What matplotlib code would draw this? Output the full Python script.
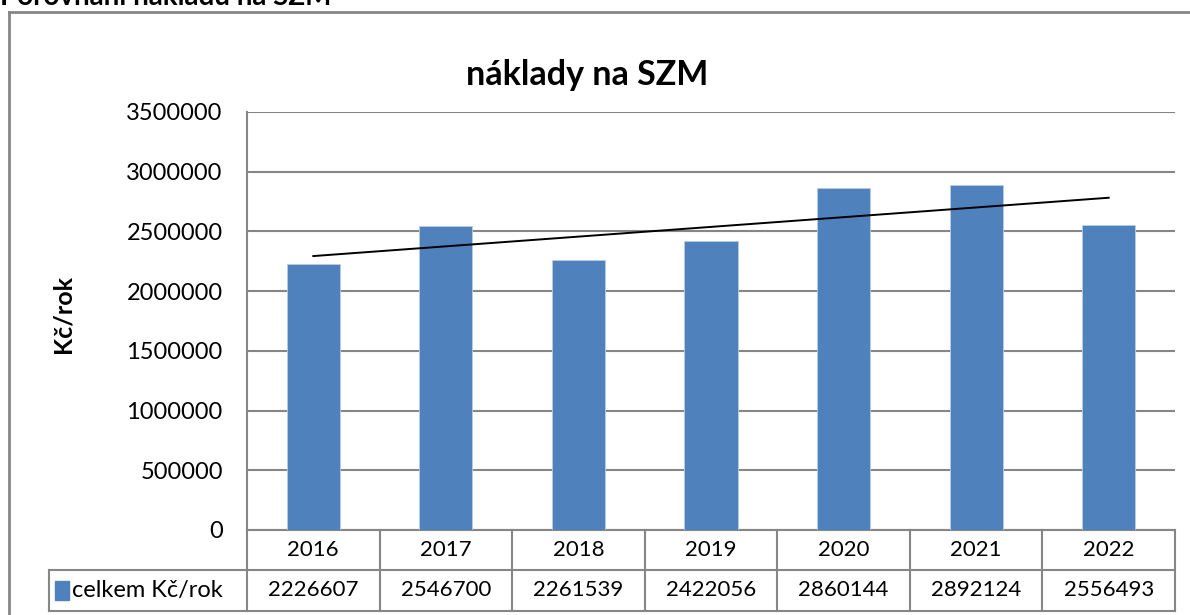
import numpy as np
import matplotlib.pyplot as plt
from matplotlib.patches import Rectangle
from matplotlib.lines import Line2D
import matplotlib.transforms as mtransforms

# data
years = ["2016", "2017", "2018", "2019", "2020", "2021", "2022"]
values = [2226607, 2546700, 2261539, 2422056, 2860144, 2892124, 2556493]
series_name = "celkem Kč/rok"
yticks = [0, 500000, 1000000, 1500000, 2000000, 2500000, 3000000, 3500000]

plt.rcParams['font.family'] = ['Lato', 'DejaVu Sans']
bar_color = "#4F81BD"
grid_color = "#868686"

fig = plt.figure(figsize=(11.9, 6.15), dpi=100)
ax = fig.add_axes([247 / 1190, 1 - 530 / 615, 928 / 1190, 418 / 615])

x = np.arange(len(years))
ax.bar(x, values, width=0.4, color=bar_color, edgecolor="#B9CDE5", linewidth=0.6, zorder=3)

# linear trendline like excel
k, q = np.polyfit(x, values, 1)
ax.plot(x, k * x + q, color="black", lw=1.4, zorder=4)

ax.set_xlim(-0.5, len(years) - 0.5)
ax.set_ylim(0, 3500000)
ax.set_yticks(yticks)
ax.set_yticklabels([str(t) for t in yticks], fontsize=17)
ax.set_xticks([])
ax.tick_params(axis="y", length=0, pad=17.5)
ax.grid(axis="y", color=grid_color, lw=1.5, zorder=0)
for s in ["top", "right", "bottom"]:
    ax.spines[s].set_visible(False)
ax.spines["left"].set_color(grid_color)
ax.spines["left"].set_linewidth(1.5)

# chart title is centred on the whole chart frame
fig.text(587 / 1190, 1 - 75 / 615, "náklady na SZM", fontsize=24.5, fontweight="bold",
         ha="center", va="center")
fig.text(63 / 1190, 1 - 314 / 615, "Kč/rok", fontsize=18, fontweight="bold",
         rotation=90, ha="center", va="center")

# data table below the plot
tr = mtransforms.blended_transform_factory(ax.transData, ax.transAxes)
r1 = -40 / 418
r2 = -81 / 418
lab_left = -198 / 928
lw = 1.5
# horizontal lines
ax.add_line(Line2D([-0.5, 6.5], [0, 0], transform=tr, color=grid_color, lw=lw, clip_on=False))
ax.add_line(Line2D([lab_left, 1], [r1, r1], transform=ax.transAxes, color=grid_color, lw=lw, clip_on=False))
ax.add_line(Line2D([lab_left, 1], [r2, r2], transform=ax.transAxes, color=grid_color, lw=lw, clip_on=False))
# vertical lines
for b in np.arange(-0.5, len(years)):
    ax.add_line(Line2D([b, b], [0, r2], transform=tr, color=grid_color, lw=lw, clip_on=False))
ax.add_line(Line2D([lab_left, lab_left], [r1, r2], transform=ax.transAxes, color=grid_color, lw=lw, clip_on=False))

for i, (yr, v) in enumerate(zip(years, values)):
    ax.text(i, r1 / 2, yr, transform=tr, ha="center", va="center", fontsize=16)
    ax.text(i, (r1 + r2) / 2, str(v), transform=tr, ha="center", va="center", fontsize=16)

ax.add_patch(Rectangle((lab_left + 0.007, (r1 + r2) / 2 - 0.022), 0.0145, 0.044,
                       transform=ax.transAxes, color=bar_color, clip_on=False))
ax.text(lab_left + 0.025, (r1 + r2) / 2, series_name, transform=ax.transAxes,
        ha="left", va="center", fontsize=17)

# outer chart frame and the caption above it
fig.add_artist(Line2D([9 / 1190, 9 / 1190], [0, 1 - 12 / 615], color=grid_color, lw=2))
fig.add_artist(Line2D([9 / 1190, 1], [1 - 12 / 615, 1 - 12 / 615], color=grid_color, lw=2))
fig.text(0.0, 1 - 5 / 615, "Porovnání nákladů na SZM", fontsize=20, fontweight="bold",
         ha="left", va="baseline")

fig.savefig("out.png", dpi=100)
